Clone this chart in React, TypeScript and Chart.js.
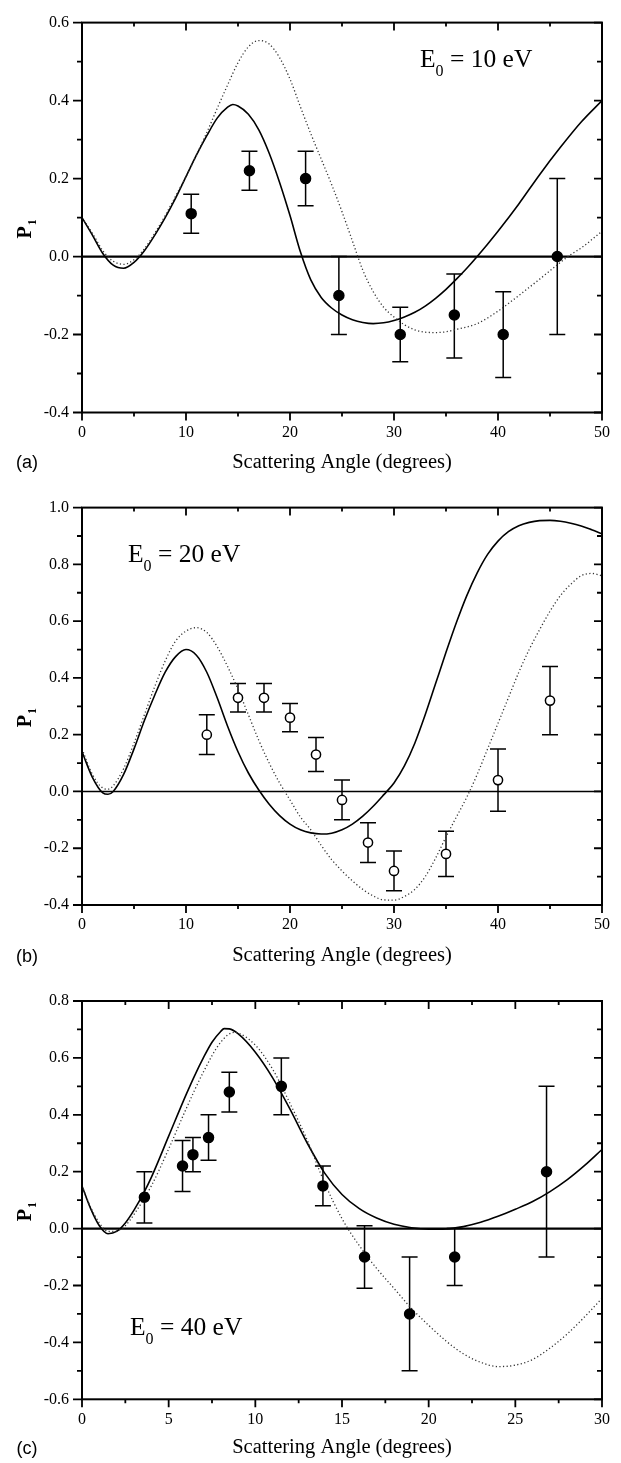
import React, { useEffect, useRef } from "react";
import { Chart, registerables } from "chart.js";

Chart.register(...registerables);

// ---------------- Panel (a): E0 = 10 eV ----------------
const aAngles = [10.5, 16.1, 21.5, 24.7, 30.6, 35.8, 40.5, 45.7];
const aP = [0.11, 0.22, 0.2, -0.1, -0.2, -0.15, -0.2, 0.0];
const aHigh = [0.16, 0.27, 0.27, 0.0, -0.13, -0.045, -0.09, 0.2];
const aLow = [0.06, 0.17, 0.13, -0.2, -0.27, -0.26, -0.31, -0.2];
const aSolidX = [0, 1, 2, 3, 4, 5, 6, 7, 8, 9, 10, 11, 12, 13, 14, 14.5, 15, 16, 17, 18, 19, 20, 21, 22, 23, 24, 25, 26, 27, 28, 29, 30, 31, 32, 33, 34, 35, 36, 37, 38, 40, 42, 44, 46, 48, 50];
const aSolidY = [0.1, 0.055, 0.008, -0.022, -0.03, -0.015, 0.015, 0.055, 0.1, 0.15, 0.205, 0.26, 0.31, 0.355, 0.383, 0.39, 0.386, 0.365, 0.325, 0.265, 0.19, 0.105, 0.012, -0.06, -0.105, -0.132, -0.15, -0.162, -0.169, -0.172, -0.17, -0.164, -0.155, -0.143, -0.127, -0.107, -0.084, -0.058, -0.03, 0.0, 0.065, 0.135, 0.21, 0.28, 0.345, 0.4];
const aDotX = [0, 1, 2, 3, 4, 5, 6, 7, 8, 9, 10, 11, 12, 13, 14, 15, 16, 17, 18, 19, 20, 21, 22, 23, 24, 25, 26, 27, 28, 29, 30, 31, 32, 33, 34, 35, 36, 38, 40, 42, 44, 46, 47, 48, 50];
const aDotY = [0.1, 0.06, 0.015, -0.012, -0.02, -0.008, 0.02, 0.06, 0.105, 0.155, 0.205, 0.26, 0.318, 0.38, 0.44, 0.497, 0.538, 0.554, 0.545, 0.51, 0.455, 0.384, 0.315, 0.25, 0.185, 0.115, 0.04, -0.035, -0.09, -0.13, -0.155, -0.175, -0.188, -0.194, -0.195, -0.193, -0.187, -0.172, -0.14, -0.1, -0.058, -0.015, 0.005, 0.022, 0.065];

// ---------------- Panel (b): E0 = 20 eV ----------------
const bAngles = [12, 15, 17.5, 20, 22.5, 25, 27.5, 30, 35, 40, 45];
const bP = [0.2, 0.33, 0.33, 0.26, 0.13, -0.03, -0.18, -0.28, -0.22, 0.04, 0.32];
const bHigh = [0.27, 0.38, 0.38, 0.31, 0.19, 0.04, -0.11, -0.21, -0.14, 0.15, 0.44];
const bLow = [0.13, 0.28, 0.28, 0.21, 0.07, -0.1, -0.25, -0.35, -0.3, -0.07, 0.2];
const bSolidX = [0, 1, 2, 2.5, 3, 4, 5, 6, 7, 8, 9, 10, 11, 12, 13, 14, 15, 16, 17, 18, 19, 20, 21, 22, 23, 24, 25, 26, 27, 28, 29, 30, 31, 32, 33, 34, 35, 36, 37, 38, 39, 40, 41, 42, 43, 44, 45, 46, 47, 48, 49, 50];
const bSolidY = [0.14, 0.05, -0.005, -0.01, 0.0, 0.06, 0.15, 0.25, 0.34, 0.42, 0.475, 0.5, 0.48, 0.42, 0.33, 0.23, 0.14, 0.065, 0.005, -0.045, -0.085, -0.115, -0.135, -0.146, -0.15, -0.147, -0.135, -0.115, -0.087, -0.052, -0.012, 0.03, 0.09, 0.17, 0.27, 0.38, 0.49, 0.595, 0.69, 0.77, 0.835, 0.882, 0.915, 0.936, 0.948, 0.954, 0.955, 0.952, 0.945, 0.935, 0.922, 0.908];
const bDotX = [0, 1, 2, 2.5, 3, 4, 5, 6, 7, 8, 9, 10, 11, 12, 13, 14, 15, 16, 17, 18, 19, 20, 21, 22, 23, 24, 25, 26, 27, 28, 29, 30, 31, 32, 33, 34, 35, 36, 37, 38, 39, 40, 41, 42, 43, 44, 45, 46, 47, 48, 49, 50];
const bDotY = [0.15, 0.06, 0.012, 0.008, 0.02, 0.08, 0.17, 0.27, 0.37, 0.46, 0.53, 0.565, 0.577, 0.56, 0.51, 0.44, 0.36, 0.27, 0.18, 0.1, 0.03, -0.03, -0.09, -0.135, -0.19, -0.24, -0.28, -0.315, -0.345, -0.368, -0.382, -0.383, -0.37, -0.345, -0.3, -0.235, -0.16, -0.09, -0.02, 0.06, 0.15, 0.24, 0.33, 0.42, 0.5, 0.57, 0.635, 0.69, 0.73, 0.76, 0.768, 0.76];

// ---------------- Panel (c): E0 = 40 eV ----------------
const cAngles = [3.6, 5.8, 6.4, 7.3, 8.5, 11.5, 13.9, 16.3, 18.9, 21.5, 26.8];
const cP = [0.11, 0.22, 0.26, 0.32, 0.48, 0.5, 0.15, -0.1, -0.3, -0.1, 0.2];
const cHigh = [0.2, 0.31, 0.32, 0.4, 0.55, 0.6, 0.22, 0.01, -0.1, 0.0, 0.5];
const cLow = [0.02, 0.13, 0.2, 0.24, 0.41, 0.4, 0.08, -0.21, -0.5, -0.2, -0.1];
const cSolidX = [0, 0.5, 1, 1.5, 2, 2.5, 3, 3.6, 4, 5, 6, 6.5, 7, 7.5, 8, 8.2, 8.5, 9, 10, 11, 12, 13, 14, 15, 16, 17, 18, 19, 20, 21, 22, 23, 24, 25, 26, 27, 28, 29, 30];
const cSolidY = [0.15, 0.07, 0.01, -0.018, -0.01, 0.02, 0.065, 0.13, 0.18, 0.325, 0.47, 0.538, 0.6, 0.655, 0.693, 0.703, 0.702, 0.685, 0.62, 0.53, 0.42, 0.3, 0.195, 0.12, 0.07, 0.037, 0.015, 0.003, -0.002, -0.001, 0.007, 0.022, 0.043, 0.068, 0.095, 0.13, 0.172, 0.222, 0.278];
const cDotX = [0, 0.5, 1, 1.5, 2, 2.5, 3, 4, 5, 6, 7, 8, 8.8, 9, 10, 11, 12, 13, 14, 15, 16, 17, 18, 19, 20, 21, 22, 23, 24, 25, 26, 27, 28, 29, 30];
const cDotY = [0.15, 0.075, 0.02, -0.01, -0.008, 0.01, 0.05, 0.15, 0.28, 0.42, 0.55, 0.655, 0.69, 0.688, 0.645, 0.56, 0.44, 0.31, 0.16, 0.035, -0.06, -0.14, -0.21, -0.28, -0.34, -0.395, -0.44, -0.47, -0.485, -0.48, -0.46, -0.42, -0.37, -0.31, -0.245];

// ---------------- Labels ----------------
const xTitle = "Scattering Angle (degrees)";
const panelLetters = ["(a)", "(b)", "(c)"];
const energyLabels = ["10 eV", "20 eV", "40 eV"];

const toXY = (xs: number[], ys: number[]) => xs.map((x, i) => ({ x, y: ys[i] }));

type PanelDef = {
  top: number;
  height: number;
  areaTop: number;
  areaBottom: number;
  titleY: number;
  xMax: number;
  xStep: number;
  xLabelEvery: number;
  yMin: number;
  yMax: number;
  angles: number[];
  p: number[];
  hi: number[];
  lo: number[];
  solid: { x: number; y: number }[];
  dotted: { x: number; y: number }[];
  openMarkers: boolean;
  zeroWidth: number;
  letter: string;
  energy: string;
  eX: number;
  eBase: number;
};

const panels: PanelDef[] = [
  {
    top: 0, height: 485, areaTop: 13.5, areaBottom: 412.5, titleY: 462.5,
    xMax: 50, xStep: 5, xLabelEvery: 10, yMin: -0.4, yMax: 0.6,
    angles: aAngles, p: aP, hi: aHigh, lo: aLow,
    solid: toXY(aSolidX, aSolidY), dotted: toXY(aDotX, aDotY),
    openMarkers: false, zeroWidth: 2.2, letter: panelLetters[0], energy: energyLabels[0],
    eX: 420, eBase: 66.5,
  },
  {
    top: 485, height: 490, areaTop: 506.7, areaBottom: 905, titleY: 956,
    xMax: 50, xStep: 5, xLabelEvery: 10, yMin: -0.4, yMax: 1.0,
    angles: bAngles, p: bP, hi: bHigh, lo: bLow,
    solid: toXY(bSolidX, bSolidY), dotted: toXY(bDotX, bDotY),
    openMarkers: true, zeroWidth: 1.6, letter: panelLetters[1], energy: energyLabels[1],
    eX: 128, eBase: 561.7,
  },
  {
    top: 975, height: 488, areaTop: 1001, areaBottom: 1399.3, titleY: 1448,
    xMax: 30, xStep: 2.5, xLabelEvery: 5, yMin: -0.6, yMax: 0.8,
    angles: cAngles, p: cP, hi: cHigh, lo: cLow,
    solid: toXY(cSolidX, cSolidY), dotted: toXY(cDotX, cDotY),
    openMarkers: false, zeroWidth: 2.2, letter: panelLetters[2], energy: energyLabels[2],
    eX: 130, eBase: 1335,
  },
];

const SERIF = "'Liberation Serif', 'Times New Roman', serif";
const SANS = "'Liberation Sans', Arial, sans-serif";

function isMajorX(v: number, every: number) {
  return Math.abs(v / every - Math.round(v / every)) < 1e-6;
}
function isMajorY(v: number) {
  return Math.round(v * 10) % 2 === 0;
}

function decorPlugin(p: PanelDef) {
  return {
    id: "decor",
    beforeDatasetsDraw(chart: any) {
      const { ctx, chartArea: ca, scales } = chart;
      const x = scales.x;
      const y = scales.y;
      ctx.save();
      ctx.strokeStyle = "#000";
      ctx.lineWidth = p.zeroWidth;
      const y0 = y.getPixelForValue(0);
      ctx.beginPath();
      ctx.moveTo(ca.left, y0);
      ctx.lineTo(ca.right, y0);
      ctx.stroke();
      ctx.lineWidth = 1.5;
      p.angles.forEach((a, i) => {
        const px = x.getPixelForValue(a);
        const yh = y.getPixelForValue(p.hi[i]);
        const yl = y.getPixelForValue(p.lo[i]);
        ctx.beginPath();
        ctx.moveTo(px, yh);
        ctx.lineTo(px, yl);
        ctx.moveTo(px - 8, yh);
        ctx.lineTo(px + 8, yh);
        ctx.moveTo(px - 8, yl);
        ctx.lineTo(px + 8, yl);
        ctx.stroke();
      });
      ctx.restore();
    },
    afterDraw(chart: any) {
      const { ctx, chartArea: ca, scales } = chart;
      const x = scales.x;
      const y = scales.y;
      ctx.save();
      ctx.strokeStyle = "#000";
      ctx.fillStyle = "#000";
      // frame
      ctx.lineWidth = 2;
      ctx.strokeRect(ca.left, ca.top, ca.right - ca.left, ca.bottom - ca.top);
      // ticks: outward on bottom/left, inward on top/right
      ctx.lineWidth = 1.8;
      ctx.beginPath();
      x.ticks.forEach((t: any) => {
        const px = x.getPixelForValue(t.value);
        const major = isMajorX(t.value, p.xLabelEvery);
        const len = major ? 8 : 4;
        ctx.moveTo(px, ca.bottom);
        ctx.lineTo(px, ca.bottom + len);
        ctx.moveTo(px, ca.top);
        ctx.lineTo(px, ca.top + len);
      });
      y.ticks.forEach((t: any) => {
        const py = y.getPixelForValue(t.value);
        const major = isMajorY(t.value);
        const ll = major ? 9 : 5;
        const lr = major ? 8 : 5;
        ctx.moveTo(ca.left, py);
        ctx.lineTo(ca.left - ll, py);
        ctx.moveTo(ca.right, py);
        ctx.lineTo(ca.right - lr, py);
      });
      ctx.stroke();

      const off = p.top;
      // y-axis title P1 (rotated)
      const midY = (ca.top + ca.bottom) / 2 + 21;
      ctx.save();
      ctx.translate(31, midY);
      ctx.rotate(-Math.PI / 2);
      ctx.textAlign = "left";
      ctx.textBaseline = "alphabetic";
      ctx.font = `bold 20px ${SERIF}`;
      ctx.fillText("P", 0, 0);
      const wP = ctx.measureText("P").width;
      ctx.font = `bold 12px ${SERIF}`;
      ctx.fillText("1", wP + 1, 5);
      ctx.restore();

      // panel letter
      ctx.font = `18px ${SANS}`;
      ctx.textAlign = "center";
      ctx.textBaseline = "middle";
      ctx.fillText(p.letter, 27, p.titleY - off + 1);

      // energy annotation E0 = .. eV
      ctx.textAlign = "left";
      ctx.textBaseline = "alphabetic";
      const bx = p.eX;
      const by = p.eBase - off;
      ctx.font = `25.5px ${SERIF}`;
      ctx.fillText("E", bx, by);
      let cx = bx + ctx.measureText("E").width;
      ctx.font = `16px ${SERIF}`;
      ctx.fillText("0", cx, by + 9);
      cx += ctx.measureText("0").width;
      ctx.font = `25.5px ${SERIF}`;
      ctx.fillText(" = " + p.energy, cx, by);
      ctx.restore();
    },
  };
}

function PanelChart({ def }: { def: PanelDef }) {
  const ref = useRef<HTMLCanvasElement | null>(null);
  useEffect(() => {
    const canvas = ref.current;
    if (!canvas) return;
    const areaTop = def.areaTop - def.top;
    const areaBottom = def.areaBottom - def.top;
    const xHeight = def.height - areaBottom;
    const titleRel = def.titleY - def.top;
    const titleSize = 20.5;
    const chart = new Chart(canvas, {
      type: "line",
      data: {
        datasets: [
          {
            data: def.solid,
            borderColor: "#000",
            borderWidth: 1.6,
            pointRadius: 0,
            cubicInterpolationMode: "monotone",
            fill: false,
            order: 3,
          },
          {
            data: def.dotted,
            borderColor: "#333",
            borderWidth: 1.3,
            borderDash: [1.2, 2.4],
            pointRadius: 0,
            cubicInterpolationMode: "monotone",
            fill: false,
            order: 2,
          },
          {
            data: toXY(def.angles, def.p),
            showLine: false,
            pointRadius: def.openMarkers ? 4.6 : 5,
            pointBorderWidth: 1.5,
            pointBackgroundColor: def.openMarkers ? "#fff" : "#000",
            pointBorderColor: "#000",
            order: 1,
          },
        ],
      } as any,
      options: {
        animation: false,
        responsive: false,
        devicePixelRatio: 1,
        events: [],
        layout: { padding: { top: areaTop, right: 19, left: 0, bottom: 0 } },
        plugins: { legend: { display: false }, tooltip: { enabled: false } },
        scales: {
          x: {
            type: "linear",
            min: 0,
            max: def.xMax,
            grid: { display: false, drawTicks: false },
            border: { display: false },
            ticks: {
              stepSize: def.xStep,
              autoSkip: false,
              maxRotation: 0,
              padding: 10.4,
              color: "#000",
              font: { family: SERIF, size: 16 },
              callback: (v: any) => (isMajorX(Number(v), def.xLabelEvery) ? String(Math.round(Number(v))) : ""),
            },
            title: {
              display: true,
              text: xTitle,
              color: "#000",
              font: { family: SERIF, size: titleSize },
              padding: { top: 0, bottom: def.height - titleRel - (titleSize * 1.2) / 2 },
            },
            afterFit: (s: any) => {
              s.height = xHeight;
            },
          },
          y: {
            type: "linear",
            min: def.yMin,
            max: def.yMax,
            grid: { display: false, drawTicks: false },
            border: { display: false },
            ticks: {
              stepSize: 0.1,
              autoSkip: false,
              padding: 13,
              color: "#000",
              font: { family: SERIF, size: 16 },
              callback: (v: any) => {
                const k = Math.round(Number(v) * 10);
                if (k % 2 !== 0) return "";
                return k === 0 ? "0.0" : (k / 10).toFixed(1);
              },
            },
            afterFit: (s: any) => {
              s.width = 82;
            },
          },
        },
      } as any,
      plugins: [decorPlugin(def)],
    });
    return () => chart.destroy();
  }, [def]);
  return (
    <canvas
      ref={ref}
      width={621}
      height={def.height}
      style={{ position: "absolute", left: 0, top: def.top, width: 621, height: def.height, display: "block" }}
    />
  );
}

export default function App() {
  return (
    <div style={{ position: "absolute", left: 0, top: 0, width: 621, height: 1463, background: "#fff" }}>
      {panels.map((d, i) => (
        <PanelChart key={i} def={d} />
      ))}
    </div>
  );
}
